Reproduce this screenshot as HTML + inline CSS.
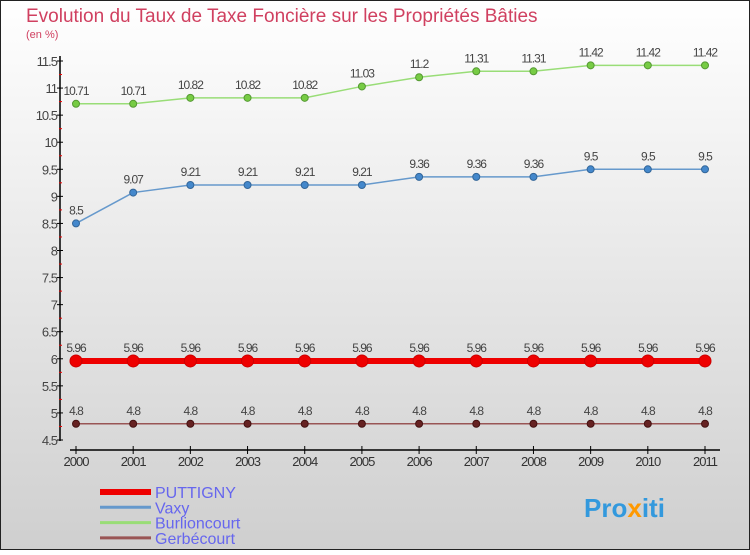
<!DOCTYPE html>
<html><head><meta charset="utf-8"><style>
body{margin:0;width:750px;height:550px;overflow:hidden;font-family:"Liberation Sans",sans-serif}
</style></head><body>
<svg width="750" height="550" xmlns="http://www.w3.org/2000/svg">
<defs><linearGradient id="bg" x1="0" y1="0" x2="0" y2="1"><stop offset="0" stop-color="#ffffff"/><stop offset="1" stop-color="#cfcfcf"/></linearGradient></defs>
<rect x="0.5" y="0.5" width="749" height="549" fill="url(#bg)" stroke="#222"/>
<text x="26" y="22" font-size="19" fill="#d04060">Evolution du Taux de Taxe Foncière sur les Propriétés Bâties</text>
<text x="26" y="38" font-size="11" fill="#d04060">(en %)</text>
<g id="axes"></g>
<g id="series"></g>
<g id="legend"></g>
<text x="584" y="517" font-size="26" font-weight="bold" fill="#3399dd">Pro<tspan fill="#ff9900">x</tspan>iti</text>
</svg>
<script>
const years=["2000","2001","2002","2003","2004","2005","2006","2007","2008","2009","2010","2011"];
const yTicks=[4.5,5,5.5,6,6.5,7,7.5,8,8.5,9,9.5,10,10.5,11,11.5];
const puttigny=[5.96,5.96,5.96,5.96,5.96,5.96,5.96,5.96,5.96,5.96,5.96,5.96];
const vaxy=[8.5,9.07,9.21,9.21,9.21,9.21,9.36,9.36,9.36,9.5,9.5,9.5];
const burlioncourt=[10.71,10.71,10.82,10.82,10.82,11.03,11.2,11.31,11.31,11.42,11.42,11.42];
const gerbecourt=[4.8,4.8,4.8,4.8,4.8,4.8,4.8,4.8,4.8,4.8,4.8,4.8];
const NS="http://www.w3.org/2000/svg";
const X=i=>76+i*(705-76)/11;
const Y=v=>440-(v-4.5)*(440-61)/7;
function mk(p,t,a){const e=document.createElementNS(NS,t);for(const k in a)e.setAttribute(k,a[k]);p.appendChild(e);return e;}
const ax=document.getElementById('axes');
let l=mk(ax,'line',{x1:60,y1:56,x2:60,y2:441,stroke:'#000','stroke-width':1.5});


yTicks.forEach((v,i)=>{
 mk(ax,'line',{x1:57,x2:63,y1:Y(v),y2:Y(v),stroke:'#000'});
 if(i<yTicks.length-1) mk(ax,'line',{x1:59,x2:62,y1:Y(v+0.25),y2:Y(v+0.25),stroke:'#e00'});
 const t=mk(ax,'text',{x:57,y:Y(v)+5,'text-anchor':'end','font-size':13,fill:'#444','letter-spacing':'-1'});
 t.textContent=String(v);
 
 
});
l=mk(ax,'line',{x1:70,y1:450,x2:720,y2:450,stroke:'#000','stroke-width':1.5});


years.forEach((y,i)=>{
 mk(ax,'line',{x1:X(i),x2:X(i),y1:446,y2:454,stroke:'#000'});
 const t=mk(ax,'text',{x:X(i),y:466,'text-anchor':'middle','font-size':13,fill:'#333','letter-spacing':'-1'});
 t.textContent=y;
 
 
});
const sg=document.getElementById('series');
function series(name,data,color,w,r,dot,dotStroke){
 const g=mk(sg,'g',{});
 
 
 const pl=mk(g,'polyline',{points:data.map((v,i)=>X(i)+','+Y(v)).join(' '),fill:'none',stroke:color,'stroke-width':w});
 
 
 data.forEach((v,i)=>{
  const c=mk(g,'circle',{cx:X(i),cy:Y(v),r:r,fill:dot,stroke:dotStroke,'stroke-width':1});
  
  
  const t=mk(g,'text',{x:X(i),y:Y(v)-9,'text-anchor':'middle','font-size':12,fill:'#444','letter-spacing':'-1'});
  t.textContent=String(v);
  
  
 });
}
series('burlioncourt',burlioncourt,'#99dd77',1.5,3.5,'#77cc44','#559933');
series('vaxy',vaxy,'#6699cc',1.5,3.5,'#4488cc','#336699');
series('gerbecourt',gerbecourt,'#995555',1.5,3.5,'#662222','#441111');
series('puttigny',puttigny,'#ee0000',6,6,'#ee0000','#cc0000');
const lg=document.getElementById('legend');
[['PUTTIGNY','#ee0000',6],['Vaxy','#6699cc',3],['Burlioncourt','#99dd77',3],['Gerbécourt','#995555',3]].forEach((e,i)=>{
 const yy=492+i*15.3;
 const ln=mk(lg,'line',{x1:100,x2:151,y1:yy,y2:yy,stroke:e[1],'stroke-width':e[2]});
 
 
 const t=mk(lg,'text',{x:155,y:yy+6,'font-size':16,fill:'#6666ee'});
 t.textContent=e[0];
 
 
});
</script>
</body></html>
